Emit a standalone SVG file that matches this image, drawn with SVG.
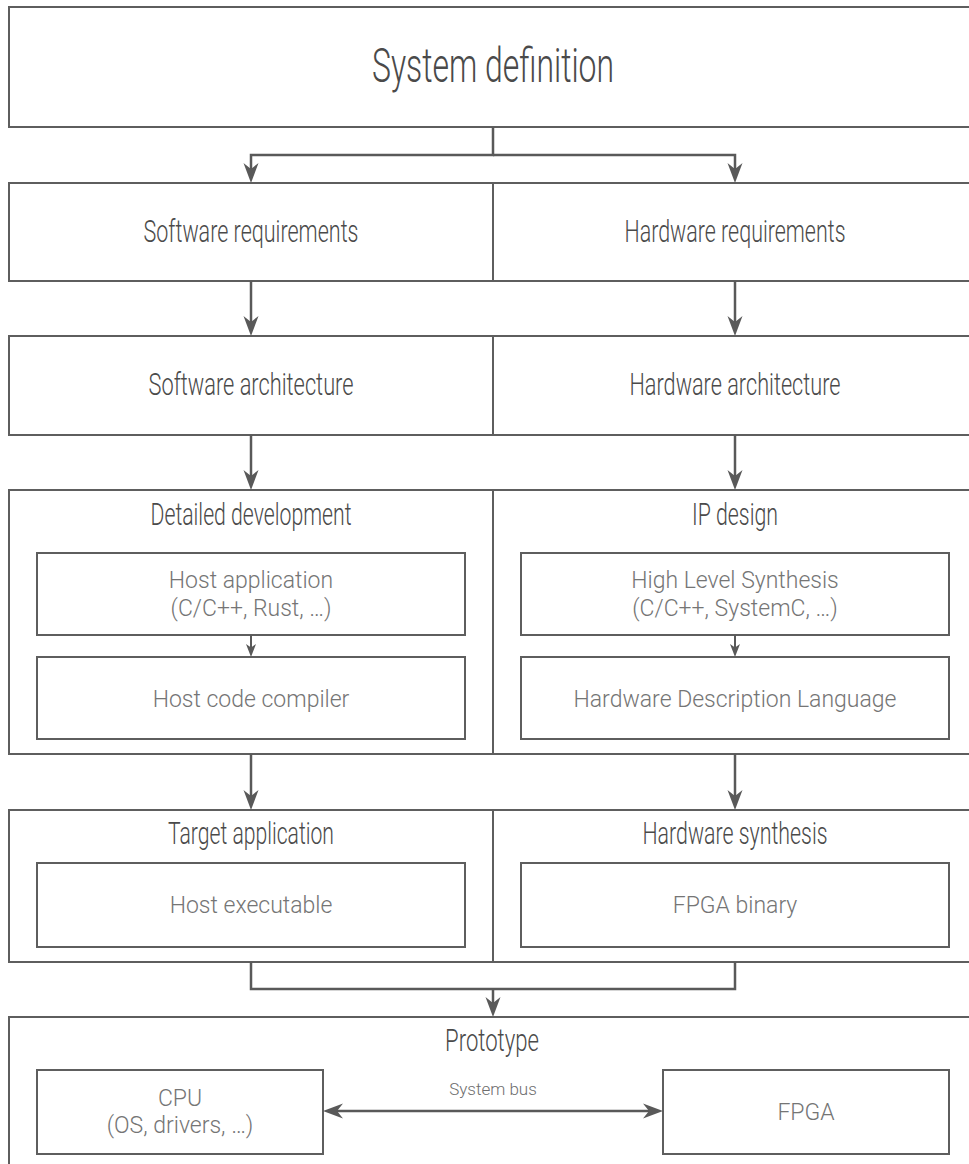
<svg xmlns="http://www.w3.org/2000/svg" width="969" height="1164" viewBox="0 0 969 1164">
  <defs>
    <marker id="arrow" markerUnits="userSpaceOnUse" markerWidth="22" markerHeight="18" viewBox="-22 -9 22 18" refX="-6" refY="0" orient="auto-start-reverse">
      <path d="M0,0 L-20,-7.5 L-14,0 L-20,7.5 Z" fill="#595959"/>
    </marker>
    <marker id="arrow-sm" markerUnits="userSpaceOnUse" markerWidth="16" markerHeight="12" viewBox="-16 -6 16 12" refX="-4" refY="0" orient="auto">
      <path d="M0,0 L-13,-5 L-9.5,0 L-13,5 Z" fill="#595959"/>
    </marker>
  </defs>
  <style>
    .box { fill: #ffffff; stroke: #5e5e5e; stroke-width: 2; }
    .div { stroke: #5e5e5e; stroke-width: 2; fill: none; }
    .conn { stroke: #595959; stroke-width: 2.5; fill: none; }
    .conn-sm { stroke: #595959; stroke-width: 2; fill: none; }
    .head { font-family: Roboto, "Noto Sans", sans-serif; font-weight: 300; font-size: 31px; fill: #4a4a4a; text-anchor: middle; }
    .title { font-family: Roboto, "Noto Sans", sans-serif; font-weight: 300; font-size: 48px; fill: #4a4a4a; text-anchor: middle; }
    .sub { font-family: Roboto, "Noto Sans", sans-serif; font-weight: 300; font-size: 23px; fill: #757575; text-anchor: middle; }
    .bus { font-family: Roboto, "Noto Sans", sans-serif; font-weight: 300; font-size: 17px; fill: #6e6e6e; text-anchor: middle; }
  </style>
  <rect width="969" height="1164" fill="#ffffff"/>

  <!-- top level -->
  <g id="system-definition">
    <rect class="box" x="9" y="7" width="968" height="120"/>
    <text class="title" x="493" y="82" textLength="242" lengthAdjust="spacingAndGlyphs">System definition</text>
  </g>

  <!-- requirements row -->
  <g id="requirements">
    <rect class="box" x="9" y="183" width="968" height="98"/>
    <line class="div" x1="493" y1="183" x2="493" y2="281"/>
    <g id="software-requirements">
      <text class="head" x="251" y="242" textLength="215" lengthAdjust="spacingAndGlyphs">Software requirements</text>
    </g>
    <g id="hardware-requirements">
      <text class="head" x="735" y="242" textLength="221" lengthAdjust="spacingAndGlyphs">Hardware requirements</text>
    </g>
  </g>

  <!-- architecture row -->
  <g id="architecture">
    <rect class="box" x="9" y="336" width="968" height="99"/>
    <line class="div" x1="493" y1="336" x2="493" y2="435"/>
    <g id="software-architecture">
      <text class="head" x="251" y="395" textLength="205" lengthAdjust="spacingAndGlyphs">Software architecture</text>
    </g>
    <g id="hardware-architecture">
      <text class="head" x="735" y="395" textLength="211" lengthAdjust="spacingAndGlyphs">Hardware architecture</text>
    </g>
  </g>

  <!-- development row -->
  <g id="development">
    <rect class="box" x="9" y="490" width="968" height="264"/>
    <line class="div" x1="493" y1="490" x2="493" y2="754"/>
    <g id="detailed-development">
      <text class="head" x="251" y="525" textLength="201" lengthAdjust="spacingAndGlyphs">Detailed development</text>
      <g id="host-application">
        <rect class="box" x="37" y="553" width="428" height="82"/>
        <text class="sub" x="251" y="588">Host application</text>
        <text class="sub" x="251" y="616">(C/C++, Rust, …)</text>
      </g>
      <g id="host-code-compiler">
        <rect class="box" x="37" y="657" width="428" height="82"/>
        <text class="sub" x="251" y="707">Host code compiler</text>
      </g>
    </g>
    <g id="ip-design">
      <text class="head" x="735" y="525" textLength="86" lengthAdjust="spacingAndGlyphs">IP design</text>
      <g id="high-level-synthesis">
        <rect class="box" x="521" y="553" width="428" height="82"/>
        <text class="sub" x="735" y="588">High Level Synthesis</text>
        <text class="sub" x="735" y="616">(C/C++, SystemC, …)</text>
      </g>
      <g id="hdl">
        <rect class="box" x="521" y="657" width="428" height="82"/>
        <text class="sub" x="735" y="707">Hardware Description Language</text>
      </g>
    </g>
  </g>

  <!-- build output row -->
  <g id="build">
    <rect class="box" x="9" y="810" width="968" height="152"/>
    <line class="div" x1="493" y1="810" x2="493" y2="962"/>
    <g id="target-application">
      <text class="head" x="251" y="844" textLength="166" lengthAdjust="spacingAndGlyphs">Target application</text>
      <g id="host-executable">
        <rect class="box" x="37" y="863" width="428" height="84"/>
        <text class="sub" x="251" y="913">Host executable</text>
      </g>
    </g>
    <g id="hardware-synthesis">
      <text class="head" x="735" y="844" textLength="185" lengthAdjust="spacingAndGlyphs">Hardware synthesis</text>
      <g id="fpga-binary">
        <rect class="box" x="521" y="863" width="428" height="84"/>
        <text class="sub" x="735" y="913">FPGA binary</text>
      </g>
    </g>
  </g>

  <!-- prototype -->
  <g id="prototype">
    <rect class="box" x="9" y="1017" width="968" height="170"/>
    <text class="head" x="492" y="1051" textLength="94" lengthAdjust="spacingAndGlyphs">Prototype</text>
    <g id="cpu">
      <rect class="box" x="37" y="1070" width="286" height="84"/>
      <text class="sub" x="180" y="1106">CPU</text>
      <text class="sub" x="180" y="1133">(OS, drivers, …)</text>
    </g>
    <g id="fpga">
      <rect class="box" x="663" y="1070" width="286" height="84"/>
      <text class="sub" x="806" y="1120">FPGA</text>
    </g>
    <text class="bus" x="493" y="1095">System bus</text>
  </g>

  <!-- connectors -->
  <g id="connectors">
    <path class="conn" d="M493,127 V155 H251 V177" marker-end="url(#arrow)"/>
    <path class="conn" d="M493,155 H735 V177" marker-end="url(#arrow)"/>
    <path class="conn" d="M251,281 V330" marker-end="url(#arrow)"/>
    <path class="conn" d="M735,281 V330" marker-end="url(#arrow)"/>
    <path class="conn" d="M251,435 V484" marker-end="url(#arrow)"/>
    <path class="conn" d="M735,435 V484" marker-end="url(#arrow)"/>
    <path class="conn-sm" d="M251,635 V653" marker-end="url(#arrow-sm)"/>
    <path class="conn-sm" d="M735,635 V653" marker-end="url(#arrow-sm)"/>
    <path class="conn" d="M251,754 V804" marker-end="url(#arrow)"/>
    <path class="conn" d="M735,754 V804" marker-end="url(#arrow)"/>
    <path class="conn" d="M251,962 V989 H735 V962"/>
    <path class="conn" d="M493,989 V1011" marker-end="url(#arrow)"/>
    <path class="conn" d="M329,1111 H657" marker-start="url(#arrow)" marker-end="url(#arrow)"/>
  </g>
</svg>
